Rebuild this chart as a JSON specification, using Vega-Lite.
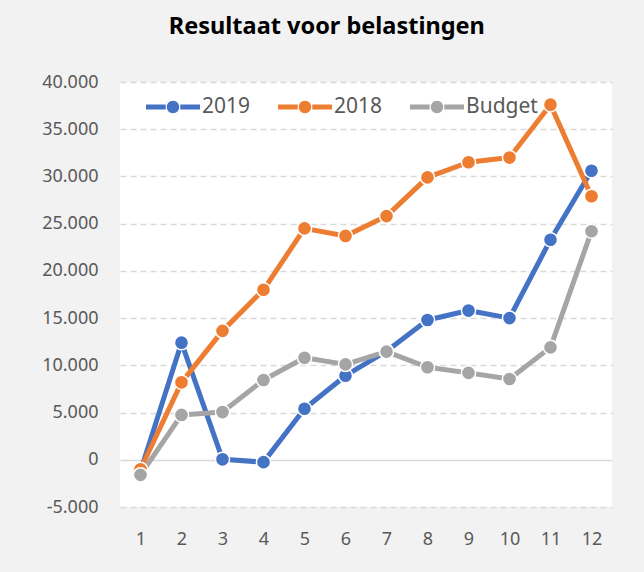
{
  "$schema": "https://vega.github.io/schema/vega-lite/v6.json",
  "width": 492,
  "height": 425,
  "autosize": {"type": "none"},
  "padding": {"left": 120, "top": 82, "right": 32, "bottom": 65},
  "background": "#f2f2f2",
  "title": {
    "text": "Resultaat voor belastingen",
    "font": "Noto Sans",
    "fontSize": 23.5,
    "fontWeight": "bold",
    "color": "#000000",
    "anchor": "middle",
    "frame": "bounds",
    "offset": 35
  },
  "config": {
    "view": {"fill": "#ffffff", "stroke": null},
    "font": "Noto Sans"
  },
  "data": {
    "values": [
      {"month": 1, "series": "2019", "value": -1200},
      {"month": 2, "series": "2019", "value": 12400},
      {"month": 3, "series": "2019", "value": 50},
      {"month": 4, "series": "2019", "value": -250},
      {"month": 5, "series": "2019", "value": 5400},
      {"month": 6, "series": "2019", "value": 8900},
      {"month": 7, "series": "2019", "value": 11500},
      {"month": 8, "series": "2019", "value": 14800},
      {"month": 9, "series": "2019", "value": 15800},
      {"month": 10, "series": "2019", "value": 15000},
      {"month": 11, "series": "2019", "value": 23300},
      {"month": 12, "series": "2019", "value": 30600},
      {"month": 1, "series": "2018", "value": -1000},
      {"month": 2, "series": "2018", "value": 8200},
      {"month": 3, "series": "2018", "value": 13650},
      {"month": 4, "series": "2018", "value": 18000},
      {"month": 5, "series": "2018", "value": 24500},
      {"month": 6, "series": "2018", "value": 23700},
      {"month": 7, "series": "2018", "value": 25800},
      {"month": 8, "series": "2018", "value": 29900},
      {"month": 9, "series": "2018", "value": 31500},
      {"month": 10, "series": "2018", "value": 32000},
      {"month": 11, "series": "2018", "value": 37600},
      {"month": 12, "series": "2018", "value": 27900},
      {"month": 1, "series": "Budget", "value": -1600},
      {"month": 2, "series": "Budget", "value": 4750},
      {"month": 3, "series": "Budget", "value": 5050},
      {"month": 4, "series": "Budget", "value": 8450},
      {"month": 5, "series": "Budget", "value": 10800},
      {"month": 6, "series": "Budget", "value": 10100},
      {"month": 7, "series": "Budget", "value": 11450},
      {"month": 8, "series": "Budget", "value": 9800},
      {"month": 9, "series": "Budget", "value": 9200},
      {"month": 10, "series": "Budget", "value": 8550},
      {"month": 11, "series": "Budget", "value": 11900},
      {"month": 12, "series": "Budget", "value": 24200}
    ]
  },
  "encoding": {
    "x": {
      "field": "month",
      "type": "ordinal",
      "title": null,
      "scale": {"type": "point", "padding": 0.5},
      "axis": {
        "labelAngle": 0,
        "ticks": false,
        "domain": false,
        "grid": false,
        "labelPadding": 23,
        "labelFontSize": 18,
        "labelColor": "#595959",
        "labelFont": "Noto Sans"
      }
    },
    "y": {
      "field": "value",
      "type": "quantitative",
      "title": null,
      "scale": {"domain": [-5000, 40000], "nice": false, "zero": false},
      "axis": {
        "values": [-5000, 0, 5000, 10000, 15000, 20000, 25000, 30000, 35000, 40000],
        "labelExpr": "replace(replace(format(datum.value, ','), ',', '.'), '\u2212', '-')",
        "ticks": false,
        "domain": false,
        "labelPadding": 22,
        "labelFontSize": 18,
        "labelColor": "#595959",
        "labelFont": "Noto Sans",
        "gridColor": "#d9d9d9",
        "gridWidth": 1.5,
        "gridDash": {"condition": {"test": "datum.value === 0", "value": []}, "value": [6, 4]}
      }
    },
    "color": {
      "field": "series",
      "type": "nominal",
      "sort": ["2019", "2018", "Budget"],
      "scale": {"domain": ["2019", "2018", "Budget"], "range": ["#4472C4", "#ED7D31", "#A5A5A5"]},
      "legend": {
        "title": null,
        "orient": "none",
        "direction": "horizontal",
        "legendX": 26,
        "legendY": -2,
        "symbolType": "M-1,-0.095H-0.27V0.095H-1Z M0.27,-0.095H1V0.095H0.27Z M-0.23,0A0.23,0.23,0,1,1,0.23,0A0.23,0.23,0,1,1,-0.23,0Z",
        "symbolSize": 2916,
        "symbolStrokeWidth": 0,
        "labelFontSize": 21,
        "labelColor": "#595959",
        "labelFont": "Noto Sans",
        "labelOffset": 2,
        "columnPadding": 27,
        "encode": {
          "symbols": {"update": {"fill": {"scale": "color", "field": "value"}, "strokeWidth": {"value": 0}, "opacity": {"value": 1}}}
        }
      }
    }
  },
  "layer": [
    {
      "mark": {"type": "line", "strokeWidth": 5, "strokeCap": "round", "strokeJoin": "round"}
    },
    {
      "mark": {"type": "point", "filled": true, "shape": "circle", "size": 200, "stroke": "#ffffff", "strokeWidth": 1.5, "opacity": 1}
    }
  ]
}
